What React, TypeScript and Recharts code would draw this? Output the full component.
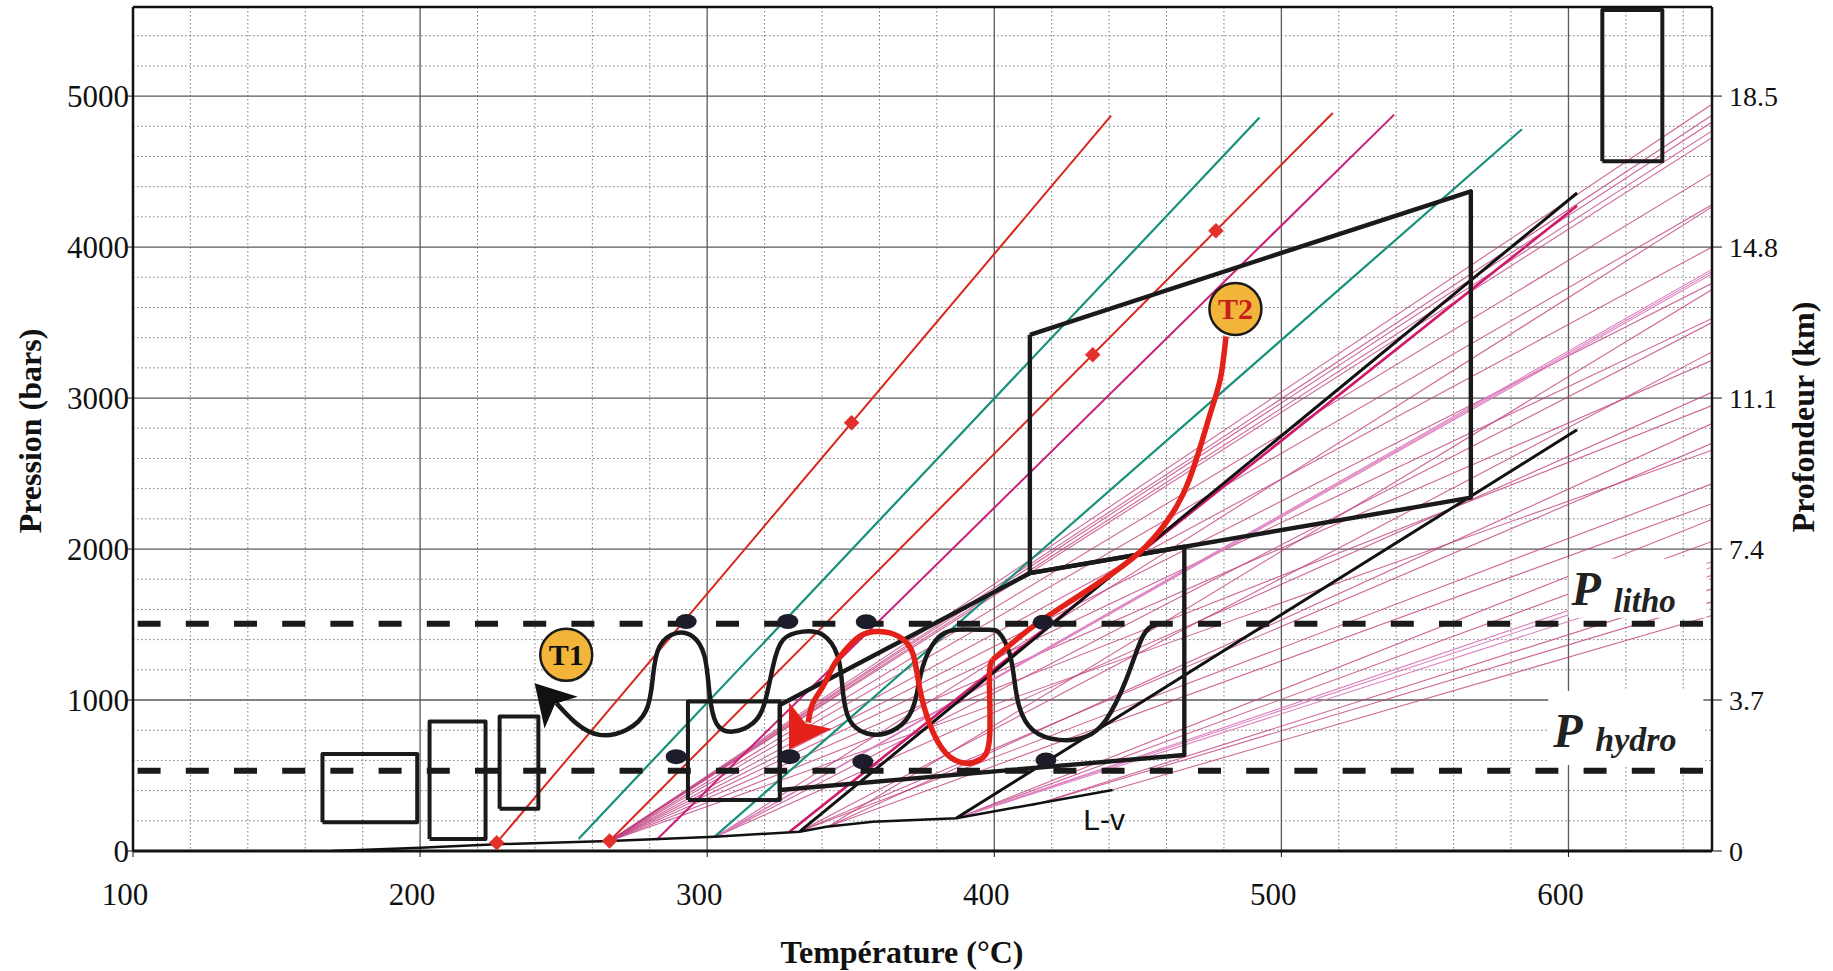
import React from 'react';
import { ComposedChart, Line, Scatter, XAxis, YAxis, CartesianGrid, ReferenceLine } from 'recharts';

type Pt = [number, number];

// axes
const T_MIN = 100;
const T_MAX = 650;
const P_MAX = 5590;
const xTicks = [100, 200, 300, 400, 500, 600];
const pressureTicks = [0, 1000, 2000, 3000, 4000, 5000];
const depthLabels = ['0', '3.7', '7.4', '11.1', '14.8', '18.5'];
const xMajor = [200, 300, 400, 500, 600];
const yMajor = [1000, 2000, 3000, 4000, 5000];
const xMinor = [120, 140, 160, 180, 220, 240, 260, 280, 320, 340, 360, 380, 420, 440, 460, 480, 520, 540, 560, 580, 620, 640];
const yMinor = [200, 400, 600, 800, 1200, 1400, 1600, 1800, 2200, 2400, 2600, 2800, 3200, 3400, 3600, 3800, 4200, 4400, 4600, 4800, 5200, 5400];

// isochores
const redIso1: Pt[] = [[226.7, 55], [440.7, 4870]];
const redIso2: Pt[] = [[266, 66], [517.9, 4888]];
const greenIso1: Pt[] = [[255.2, 80], [492.4, 4858]];
const greenIso2: Pt[] = [[302.6, 95], [583.8, 4780]];
const magentaIso1: Pt[] = [[282.3, 73], [539.3, 4877]];
const magentaIso2: Pt[] = [[328.7, 128], [603, 4274]];
const blackIso1: Pt[] = [[332.2, 128], [603, 4358]];
const blackIso2: Pt[] = [[386.7, 217], [603, 2790]];
const redDiamonds: Pt[] = [[226.7, 55], [350.3, 2836], [266, 66], [434.3, 3287], [477.2, 4108]];

// liquid-vapour curve
const liquidVapour: Pt[] = [[169.4, 0], [200, 22], [226.7, 45], [266, 66], [302.6, 95], [332.2, 128], [341.5, 161], [357.7, 194], [386.7, 217], [441.2, 404]];

// hatch fan: [start T, start P, P at right edge]
const fanDark: number[][] = [
  [266, 66, 4946], [266, 66, 4873], [266, 66, 4828], [266, 66, 4769], [266, 66, 4725],
  [266, 66, 4488], [266, 66, 4280], [266, 66, 4000], [266, 66, 3760], [266, 66, 3527], [266, 66, 3250], [266, 66, 2950], [266, 66, 2654],
  [303, 95, 4266], [303, 95, 3500], [303, 95, 3038],
  [332, 128, 3305], [332, 128, 2700], [332, 128, 2432],
  [342, 161, 3719], [342, 161, 2831], [342, 161, 2300],
  [387, 217, 2196], [387, 217, 2050],
  [413, 300, 1736], [413, 300, 1650],
  [441, 404, 1560],
];
const fanLight: number[][] = [
  [303, 95, 3852], [303, 95, 3837], [303, 95, 3822],
  [387, 217, 1916], [387, 217, 1880], [387, 217, 1826],
];

// boxes: [Tmin, Tmax, Pmin, Pmax]
const boxes: number[][] = [
  [166, 199, 190, 643],
  [203.3, 222.8, 80, 857],
  [227.7, 241.2, 280, 890],
  [293.3, 325.3, 338, 990],
  [611.8, 632.7, 4568, 5570],
];
const upperDomain: Pt[] = [[412.4, 3419], [566, 4369], [566, 2340], [412.4, 1840], [412.4, 3419]];
const lowerDomain: Pt[] = [[325.3, 967], [412.4, 1840], [466.2, 2015], [466.2, 636], [325.3, 404], [325.3, 967]];

// litho / hydro pressures
const pLitho = 1505;
const pHydro = 532;
const dashSpan = [101.6, 649.5];
const lithoDots: Pt[] = [[292.7, 1520], [328.1, 1520], [355.4, 1518], [417, 1515]];
const hydroDots: Pt[] = [[289.2, 625], [328.7, 625], [354.2, 592], [418, 603]];

// T1 path (from arrow to start)
const pathT1: Pt[] = [
  [247.5, 979], [254.4, 846], [262.5, 769], [271.8, 802], [278.8, 934], [281.1, 1155], [283.4, 1354],
  [289.2, 1443], [295, 1420], [299.1, 1288], [300.8, 1045], [303.2, 846], [308.9, 791], [315.9, 846],
  [320, 979], [322.9, 1221], [326.4, 1398], [333.3, 1453], [340.3, 1431], [345.5, 1288], [347.2, 1067],
  [349.6, 868], [355.4, 780], [362.3, 780], [369.3, 868], [372.8, 1023], [375.1, 1221], [379.7, 1398],
  [386.7, 1465], [397.1, 1465], [401.8, 1443], [405.3, 1310], [407, 1133], [408.7, 956], [413.4, 802],
  [422.7, 736], [431.9, 757], [438.9, 868], [445.9, 1133], [451.7, 1420], [456.3, 1498],
];
const arrowT1: Pt[] = [[239.9, 1111]];

// T2 path
const pathT2a: Pt[] = [
  [480.7, 3408], [478.9, 3143], [476, 2944], [472.5, 2724], [467.9, 2459], [462.1, 2238],
  [452.8, 2017], [441.2, 1840], [427.3, 1663], [413.4, 1486], [399.4, 1266],
];
const pathT2b: Pt[] = [
  [399.4, 1266], [398.3, 1133], [398.3, 736], [394.8, 603], [390.2, 581], [383.2, 647], [377.4, 846],
  [373.9, 1089], [371.6, 1310], [366.8, 1420], [360, 1453], [353, 1420], [347.2, 1310], [343.8, 1221],
  [340.3, 1089], [336.8, 979], [335.2, 851],
];
const arrowT2: Pt[] = [[328.5, 672]];

// stage markers
const stageNames = ['T1', 'T2'];
const stagePos: Pt[] = [[250.9, 1299], [484, 3590]];

// annotations
const lithoAnchor: Pt[] = [[600, 1545]];
const hydroAnchor: Pt[] = [[593, 570]];
const lvAnchor: Pt[] = [[431, 139]];

const rows = (pts: Pt[]) => pts.map(([t, p]) => ({ t, p }));
const rectRows = (b: number[]) =>
  rows([[b[0], b[2]], [b[1], b[2]], [b[1], b[3]], [b[0], b[3]], [b[0], b[2]]]);

const SERIF = '"Liberation Serif", "Times New Roman", serif';

const line = (key: string, data: { t: number; p: number }[], stroke: string, width: number, type: any = 'linear', dash?: string, opacity = 1) => (
  <Line
    key={key}
    data={data}
    dataKey="p"
    type={type}
    stroke={stroke}
    strokeWidth={width}
    strokeDasharray={dash}
    strokeOpacity={opacity}
    dot={false}
    activeDot={false}
    isAnimationActive={false}
    legendType="none"
    strokeLinejoin="round"
  />
);

const DotShape = (props: any) => <ellipse cx={props.cx} cy={props.cy} rx={10.5} ry={7.5} fill="#1c1c2a" />;

const DiamondShape = (props: any) => (
  <rect x={props.cx - 5.5} y={props.cy - 5.5} width={11} height={11} fill="#e3302a" transform={`rotate(45 ${props.cx} ${props.cy})`} />
);

const StageShape = (props: any) => {
  const name = props.payload.name;
  return (
    <g>
      <circle cx={props.cx} cy={props.cy} r={26} fill="#f2b53a" stroke="#1a1a1a" strokeWidth={2.5} />
      <text x={props.cx} y={props.cy} dy="0.35em" textAnchor="middle" fontFamily={SERIF} fontWeight="bold" fontSize={30} fill={name === 'T2' ? '#c81e1a' : '#111'}>
        {name}
      </text>
    </g>
  );
};

const BlackArrow = (props: any) => (
  <polygon points="0,0 -40,21 -29,0 -39,-25" fill="#111" transform={`translate(${props.cx} ${props.cy}) rotate(-135)`} />
);

const RedArrow = (props: any) => (
  <polygon points="0,0 -40,-25 -31,0 -40,25" fill="#e32119" transform={`translate(${props.cx} ${props.cy}) rotate(122)`} />
);

const LithoLabel = (props: any) => (
  <g>
    <rect x={props.cx} y={props.cy - 59} width={138} height={59} fill="#fff" />
    <text x={props.cx + 3} y={props.cy - 13} fontFamily={SERIF} fontStyle="italic" fontWeight="bold" fontSize={48} fill="#222">P</text>
    <text x={props.cx + 45} y={props.cy - 6} fontFamily={SERIF} fontStyle="italic" fontWeight="bold" fontSize={33} fill="#222">litho</text>
  </g>
);

const HydroLabel = (props: any) => (
  <g>
    <rect x={props.cx} y={props.cy - 74} width={155} height={74} fill="#fff" />
    <text x={props.cx + 5} y={props.cy - 18} fontFamily={SERIF} fontStyle="italic" fontWeight="bold" fontSize={48} fill="#222">P</text>
    <text x={props.cx + 47} y={props.cy - 14} fontFamily={SERIF} fontStyle="italic" fontWeight="bold" fontSize={34} fill="#222">hydro</text>
  </g>
);

const LvLabel = (props: any) => (
  <text x={props.cx} y={props.cy} fontFamily='"Liberation Sans", Arial, sans-serif' fontSize={30} fill="#111">L-v</text>
);

const XTick = ({ x, y, payload }: any) => (
  <text x={x - 8} y={y} dy={21} textAnchor="middle" fontFamily={SERIF} fontSize={31} fill="#111">{payload.value}</text>
);
const LeftTick = ({ x, y, payload }: any) => (
  <text x={x + 2} y={y} dy="0.35em" textAnchor="end" fontFamily={SERIF} fontSize={31} fill="#111">{payload.value}</text>
);
const RightTick = ({ x, y, payload }: any) => (
  <text x={x} y={y} dy="0.35em" textAnchor="start" fontFamily={SERIF} fontSize={28} fill="#111">
    {depthLabels[pressureTicks.indexOf(payload.value)]}
  </text>
);

const titleStyle: React.CSSProperties = {
  position: 'absolute',
  fontFamily: SERIF,
  fontWeight: 'bold',
  fontSize: 32,
  color: '#111',
  whiteSpace: 'nowrap',
  lineHeight: 1,
};

const App: React.FC = () => {
  const pink = '#c2407e';
  const pinkLight = '#dd80bf';
  return (
    <div style={{ position: 'absolute', left: 0, top: 0, width: 1833, height: 971, background: '#fff' }}>
      <ComposedChart width={1833} height={971} margin={{ top: 7, right: 0, bottom: 0, left: 0 }}>
        <CartesianGrid horizontalValues={yMinor} verticalValues={xMinor} stroke="#7a7a7a" strokeDasharray="1.5 2.5" strokeWidth={1} />
        <CartesianGrid horizontalValues={yMajor} verticalValues={xMajor} stroke="#5a5a5a" strokeWidth={1.3} />
        <XAxis
          dataKey="t"
          type="number"
          domain={[T_MIN, T_MAX]}
          ticks={xTicks}
          allowDataOverflow
          height={120}
          tickSize={6}
          tickMargin={27}
          tick={<XTick />}
          axisLine={{ stroke: '#111', strokeWidth: 3 }}
          tickLine={{ stroke: '#111' }}
        />
        <YAxis
          dataKey="p"
          type="number"
          domain={[0, P_MAX]}
          ticks={pressureTicks}
          allowDataOverflow
          width={133}
          tickSize={6}
          tickMargin={0}
          tick={<LeftTick />}
          axisLine={{ stroke: '#111', strokeWidth: 2.5 }}
          tickLine={{ stroke: '#111' }}
        />
        <YAxis
          yAxisId="right"
          orientation="right"
          type="number"
          domain={[0, P_MAX]}
          ticks={pressureTicks}
          allowDataOverflow
          width={121}
          tickSize={10}
          tickMargin={7}
          tick={<RightTick />}
          axisLine={{ stroke: '#111', strokeWidth: 2.5 }}
          tickLine={{ stroke: '#111' }}
        />
        <ReferenceLine y={P_MAX} stroke="#111" strokeWidth={2.5} />

        {fanDark.map((f, i) => line(`fd${i}`, rows([[f[0], f[1]], [T_MAX, f[2]]]), pink, 1.1, 'linear', undefined, 0.8))}
        {fanLight.map((f, i) => line(`fl${i}`, rows([[f[0], f[1]], [T_MAX, f[2]]]), pinkLight, 1.1))}

        {line('red1', rows(redIso1), '#d8261c', 2)}
        {line('red2', rows(redIso2), '#d8261c', 2)}
        {line('green1', rows(greenIso1), '#17907a', 2.2)}
        {line('green2', rows(greenIso2), '#17907a', 2.2)}
        {line('mag1', rows(magentaIso1), '#c81e78', 2)}
        {line('mag2', rows(magentaIso2), '#d0196a', 2.6)}
        {line('black1', rows(blackIso1), '#111', 3)}
        {line('black2', rows(blackIso2), '#111', 3)}
        {line('lv', rows(liquidVapour), '#111', 2.5)}

        {boxes.map((b, i) => line(`box${i}`, rectRows(b), '#1a1a1a', 4))}
        {line('upper', rows(upperDomain), '#1a1a1a', 4.4)}
        {line('lower', rows(lowerDomain), '#1a1a1a', 4.4)}

        {line('litho', rows([[dashSpan[0], pLitho], [dashSpan[1], pLitho]]), '#1a1a1a', 6, 'linear', '23 25.2')}
        {line('hydro', rows([[dashSpan[0], pHydro], [dashSpan[1], pHydro]]), '#1a1a1a', 6, 'linear', '23 25.2')}

        {line('t1path', rows(pathT1), '#1a1a1a', 4.5, 'natural')}
        {line('t2a', rows(pathT2a), '#e32119', 5.5, 'natural')}
        {line('t2b', rows(pathT2b), '#e32119', 5.5, 'natural')}

        <Scatter data={rows(lithoAnchor)} dataKey="p" shape={<LithoLabel />} isAnimationActive={false} />
        <Scatter data={rows(hydroAnchor)} dataKey="p" shape={<HydroLabel />} isAnimationActive={false} />
        <Scatter data={rows(lvAnchor)} dataKey="p" shape={<LvLabel />} isAnimationActive={false} />
        <Scatter data={rows(redDiamonds)} dataKey="p" shape={<DiamondShape />} isAnimationActive={false} />
        <Scatter data={rows([...lithoDots, ...hydroDots])} dataKey="p" shape={<DotShape />} isAnimationActive={false} />
        <Scatter data={rows(arrowT1)} dataKey="p" shape={<BlackArrow />} isAnimationActive={false} />
        <Scatter data={rows(arrowT2)} dataKey="p" shape={<RedArrow />} isAnimationActive={false} />
        <Scatter
          data={stagePos.map(([t, p], i) => ({ t, p, name: stageNames[i] }))}
          dataKey="p"
          shape={<StageShape />}
          isAnimationActive={false}
        />
      </ComposedChart>
      <div style={{ ...titleStyle, left: 30, top: 431, transform: 'translate(-50%, -50%) rotate(-90deg)' }}>Pression (bars)</div>
      <div style={{ ...titleStyle, left: 1803, top: 417, transform: 'translate(-50%, -50%) rotate(-90deg)' }}>Profondeur (km)</div>
      <div style={{ ...titleStyle, left: 902, top: 952, transform: 'translate(-50%, -50%)' }}>Température (°C)</div>
    </div>
  );
};

export default App;
